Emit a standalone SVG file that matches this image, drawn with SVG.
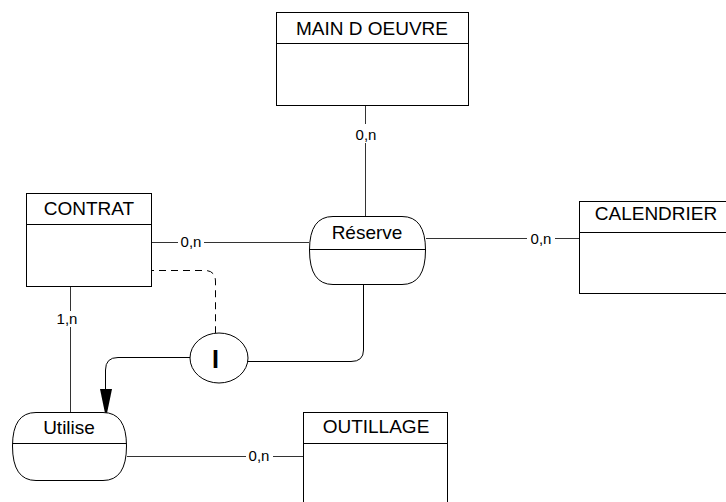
<svg xmlns="http://www.w3.org/2000/svg" width="726" height="502" viewBox="0 0 726 502">
<defs>
<style>
.box{fill:#fff;stroke:#000;stroke-width:1}
.div{stroke:#000;stroke-width:1;fill:none}
.t{font-family:"Liberation Sans",Arial,sans-serif;font-size:19px;fill:#000;text-anchor:middle}
.lb{font-family:"Liberation Sans",Arial,sans-serif;font-size:15px;fill:#000;text-anchor:middle}
.c{stroke:#333;stroke-width:1;fill:none}
.k{stroke:#000;stroke-width:1;fill:none}
.d{stroke:#000;stroke-width:1;fill:none;stroke-dasharray:7 5}
</style>
</defs>
<rect width="726" height="502" fill="#fff"/>
<g id="connectors">
<path class="c" d="M365.5 105.5V124M365.5 143V216"/>
<text class="lb" x="366" y="140">0,n</text>
<path class="c" d="M152 242.5H178M204 242.5H309"/>
<text class="lb" x="191" y="247">0,n</text>
<path class="c" d="M426 238.5H527M555 238.5H579"/>
<text class="lb" x="541" y="244">0,n</text>
<path class="c" d="M70.5 287V311M70.5 327V412"/>
<text class="lb" x="67" y="324">1,n</text>
<path class="c" d="M127 456.5H246M273 456.5H303"/>
<text class="lb" x="259" y="461">0,n</text>
<path class="k" d="M363.5 284V350Q363.5 361.5 351 361.5H240"/>
<path class="k" d="M190 357.5H118Q105.5 357.5 105.5 370V390"/>
<polygon points="100,389 112,389 106,418" fill="#000"/>
<path class="d" d="M147 270.5H205Q215.5 270.5 215.5 282V333"/>
</g>
<g id="main-d-oeuvre">
<rect class="box" x="276.5" y="12.5" width="192" height="93"/>
<line class="div" x1="276.5" y1="43.5" x2="468.5" y2="43.5"/>
<text class="t" x="372" y="35">MAIN D OEUVRE</text>
</g>
<g id="contrat">
<rect class="box" x="26.5" y="193.5" width="125" height="93"/>
<line class="div" x1="26.5" y1="224.5" x2="151.5" y2="224.5"/>
<text class="t" x="89" y="215">CONTRAT</text>
</g>
<g id="calendrier">
<rect class="box" x="579.5" y="201.5" width="160" height="92"/>
<line class="div" x1="579.5" y1="232.5" x2="739.5" y2="232.5"/>
<text class="t" x="656" y="220">CALENDRIER</text>
</g>
<g id="outillage">
<rect class="box" x="303.5" y="412.5" width="144" height="100"/>
<line class="div" x1="303.5" y1="443.5" x2="447.5" y2="443.5"/>
<text class="t" x="376" y="433">OUTILLAGE</text>
</g>
<g id="reserve">
<path class="box" d="M333 216.5H402Q425.5 216.5 425.5 250Q425.5 284.5 402 284.5H333Q309.5 284.5 309.5 250Q309.5 216.5 333 216.5Z"/>
<line class="div" x1="309.5" y1="249.5" x2="425.5" y2="249.5"/>
<text class="t" x="367" y="239">Réserve</text>
</g>
<g id="utilise">
<path class="box" d="M36 412.5H103Q126.5 412.5 126.5 446Q126.5 480.5 103 480.5H36Q12.5 480.5 12.5 446Q12.5 412.5 36 412.5Z"/>
<line class="div" x1="12.5" y1="443.5" x2="126.5" y2="443.5"/>
<text class="t" x="69" y="434">Utilise</text>
</g>
<g id="contrainte-i">
<ellipse class="box" cx="219" cy="358" rx="29" ry="25"/>
<text x="215.5" y="368" font-family="'Liberation Sans',Arial,sans-serif" font-size="25" font-weight="bold" text-anchor="middle">I</text>
</g>
</svg>
